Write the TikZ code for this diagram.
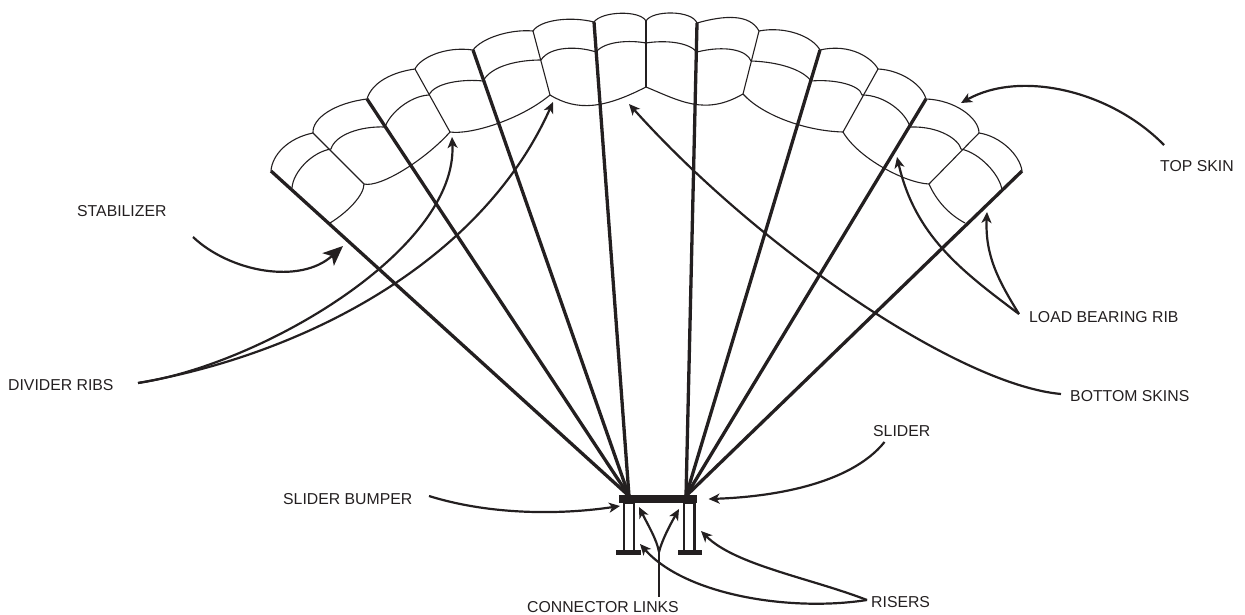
\documentclass[tikz,border=0pt]{standalone}
\usepackage{fontspec}
\setmainfont{Liberation Sans}
\usetikzlibrary{arrows.meta}
\definecolor{ink}{HTML}{231F20}
\tikzset{
  skin/.style={draw=ink,line width=1.1pt,line cap=round,line join=round},
  suspline/.style={draw=ink,line width=3.3pt},
  solidbar/.style={fill=ink,draw=none},
  riser/.style={draw=ink,line width=2.8pt,fill=white},
  lead/.style={draw=ink,line width=2.2pt,-{Stealth[length=11pt,width=10pt,inset=3pt]}},
  leadplain/.style={draw=ink,line width=2.2pt},
  bigtip/.style={draw=ink,line width=2.2pt,-{Stealth[length=20pt,width=17pt,inset=5pt]}},
  lab/.style={anchor=base west,inner sep=0pt,text=ink,font=\fontsize{15.8}{18}\selectfont},
}
\begin{document}
\begin{tikzpicture}[x=1pt,y=-1pt]
\useasboundingbox (0,0) rectangle (1245,615);
% canopy: top skin
\draw[skin] (271,171) .. controls (272,155) and (288,138) .. (313,133)
  .. controls (312,118) and (335,103) .. (367,99)
  .. controls (372,82) and (393,72) .. (415,69)
  .. controls (420,58) and (445,46) .. (473,50)
  .. controls (482,38) and (510,29) .. (533,31)
  .. controls (540,20) and (570,16) .. (594,22)
  .. controls (602,11) and (640,10) .. (646,21)
  .. controls (652,10) and (692,10) .. (697,23)
  .. controls (725,15) and (750,14) .. (759,31)
  .. controls (785,26) and (812,36) .. (820,50)
  .. controls (850,43) and (872,58) .. (878,69)
  .. controls (900,70) and (922,84) .. (926,99)
  .. controls (955,100) and (979,118) .. (979,133)
  .. controls (1000,136) and (1020,155) .. (1022,171);
% middle
\draw[skin] (292,188) .. controls (293,172) and (312,152) .. (331,149)
  .. controls (335,135) and (360,126) .. (385,127)
  .. controls (390,113) and (410,96) .. (429,95)
  .. controls (435,82) and (465,79) .. (483,81)
  .. controls (492,65) and (520,60) .. (541,60)
  .. controls (550,46) and (578,46) .. (596,52)
  .. controls (605,41) and (630,40) .. (646,43)
  .. controls (665,40) and (688,42) .. (697,52)
  .. controls (725,45) and (747,50) .. (751,61)
  .. controls (780,62) and (803,70) .. (811,81)
  .. controls (835,79) and (860,85) .. (862,95)
  .. controls (885,95) and (906,113) .. (910,127)
  .. controls (940,126) and (959,140) .. (961,149)
  .. controls (980,153) and (1000,175) .. (1002,190);
% bottom
\draw[skin] (330,223) .. controls (348,212) and (364,195) .. (364,184)
  .. controls (380,188) and (425,160) .. (450,132)
  .. controls (470,135) and (520,120) .. (550,95)
  .. controls (578,112) and (605,108) .. (646,87)
  .. controls (680,101) and (705,116) .. (743,94)
  .. controls (762,115) and (805,131) .. (843,132)
  .. controls (858,158) and (905,183) .. (929,184)
  .. controls (937,202) and (950,215) .. (965,223);
% ribs
\draw[skin] (313,133) -- (364,184);
\draw[skin] (415,69) -- (450,132);
\draw[skin] (533,31) -- (550,95);
\draw[skin] (646,21) -- (646,87);
\draw[skin] (759,31) -- (743,94);
\draw[skin] (878,69) -- (843,132);
\draw[skin] (979,133) -- (929,184);
% suspension lines
\coordinate (hl) at (629,496);
\coordinate (hr) at (686,496);
\foreach \x/\y in {271/171,367/99,473/50,594/22}{\draw[suspline] (\x,\y) -- (hl);}
\foreach \x/\y in {697/23,820/50,926/99,1022/171}{\draw[suspline] (\x,\y) -- (hr);}
% risers and slider
\draw[riser] (624,503) rectangle (634,551);
\draw[riser] (684,503) rectangle (694.5,551);
\fill[solidbar] (619,495) rectangle (697,503);
\fill[solidbar] (615.5,550) rectangle (641,555);
\fill[solidbar] (677.5,550) rectangle (701.5,555);
% labels
\node[lab] (stab) at (77,216.5) {STABILIZER};
\node[lab] (divr) at (8,390) {DIVIDER RIBS};
\node[lab] (tops) at (1160,171.5) {TOP SKIN};
\node[lab] (load) at (1029,322) {LOAD BEARING RIB};
\node[lab] (bots) at (1070,401) {BOTTOM SKINS};
\node[lab] (bump) at (283,504) {SLIDER BUMPER};
\node[lab] (slid) at (873,436) {SLIDER};
\node[lab] (conn) at (527,612) {CONNECTOR LINKS};
\node[lab] (rise) at (871,607) {RISERS};
% lead ends
\coordinate (stabS) at (193,237);
\coordinate (stabT) at (343,246);
\coordinate (divS) at (138,383);
\coordinate (divA) at (452,137);
\coordinate (divB) at (553,102);
\coordinate (topS) at (1164,145);
\coordinate (topT) at (961,103);
\coordinate (loadS) at (1019,314);
\coordinate (loadA) at (897,157);
\coordinate (loadB) at (987,212);
\coordinate (botS) at (1061,394);
\coordinate (botT) at (629,104);
\coordinate (slidS) at (884.5,442);
\coordinate (slidT) at (708.5,499);
\coordinate (bumpS) at (429,496);
\coordinate (bumpT) at (620,506);
\coordinate (connS) at (659,597);
\coordinate (connM) at (659,552);
\coordinate (connA) at (639,507);
\coordinate (connB) at (679,509);
\coordinate (riseS) at (867,600);
\coordinate (riseA) at (701,531);
\coordinate (riseB) at (640,544);
% leads
\draw[bigtip] (stabS) .. controls (230,272) and (300,285) .. (stabT);
\draw[lead] (divS) .. controls (260,365) and (458,250) .. (divA);
\draw[lead] (divS) .. controls (300,355) and (480,265) .. (divB);
\draw[lead] (topS) .. controls (1110,90) and (1020,70) .. (topT);
\draw[lead] (loadS) .. controls (960,270) and (915,235) .. (loadA);
\draw[lead] (loadS) .. controls (998,280) and (985,255) .. (loadB);
\draw[lead] (botS) .. controls (960,385) and (760,250) .. (botT);
\draw[lead] (slidS) .. controls (850,485) and (770,497) .. (slidT);
\draw[lead] (bumpS) .. controls (490,515) and (560,515) .. (bumpT);
\draw[leadplain] (connS) -- (connM);
\draw[lead] (connM) .. controls (657,540) and (648,525) .. (connA);
\draw[lead] (connM) .. controls (662,540) and (670,525) .. (connB);
\draw[lead] (riseS) .. controls (810,578) and (735,565) .. (riseA);
\draw[lead] (riseS) .. controls (790,612) and (685,595) .. (riseB);
\end{tikzpicture}
\end{document}
